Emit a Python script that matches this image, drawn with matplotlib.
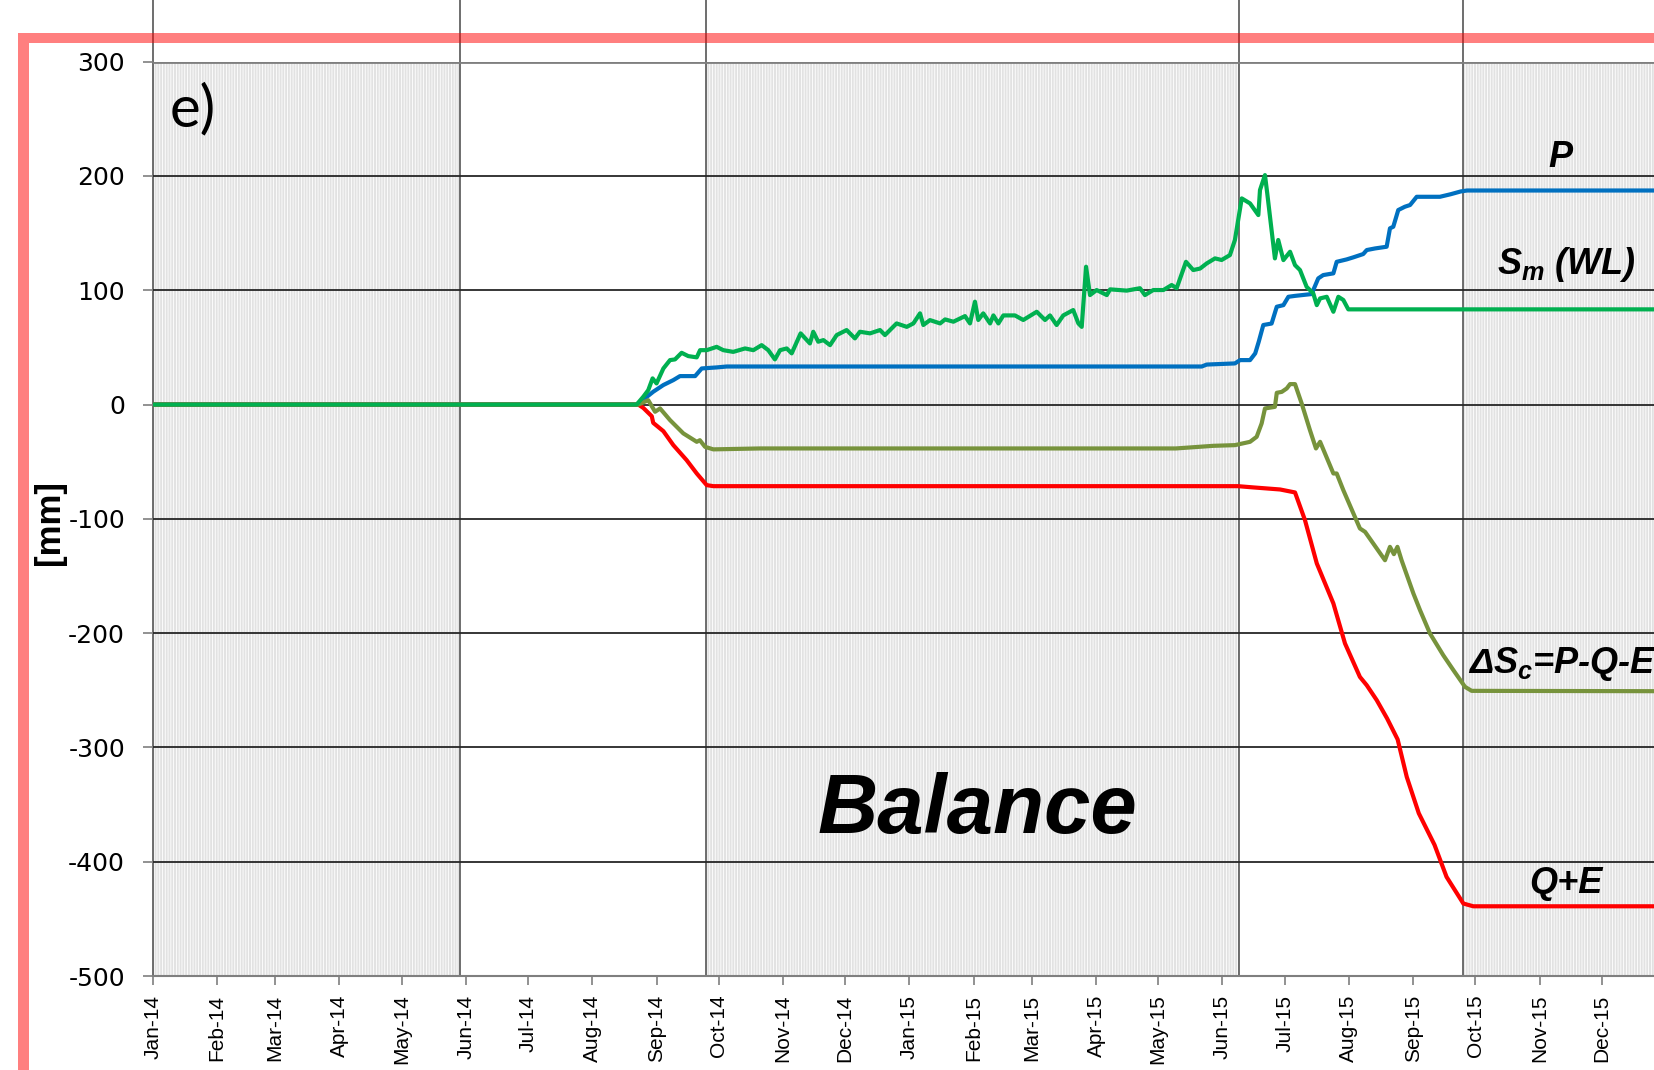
import pandas as pd
import matplotlib
matplotlib.use("Agg")
import matplotlib.pyplot as plt
import matplotlib.dates as mdates
from matplotlib.patches import Rectangle

plt.rcParams["font.family"] = "Liberation Sans"
plt.rcParams["axes.unicode_minus"] = False
plt.rcParams["mathtext.fontset"] = "custom"
plt.rcParams["mathtext.it"] = "Liberation Sans:italic:bold"
plt.rcParams["mathtext.rm"] = "Liberation Sans:bold"
plt.rcParams["hatch.linewidth"] = 0.6

# Days are counted from the start of the record
START = pd.Timestamp("2014-01-01")
END_DAY = 790

# Shaded periods (day ranges)
shade_start = [0, 267, 632]
shade_end = [148, 524, END_DAY]

# y axis
y_ticks = [-500, -400, -300, -200, -100, 0, 100, 200, 300]
y_labels = ["-500", "-400", "-300", "-200", "-100", "0", "100", "200", "300"]

# P (cumulative precipitation)
p_days = [0, 233.4, 237.4, 241.4, 246.3, 251.1, 254.3, 261.6, 264.8, 272, 276.9, 506, 508.4, 522,
          524.5, 529.3, 531.8, 533.5, 535.7, 539.7, 542.2, 545.4, 547.8, 551, 559, 562.2, 564.6,
          569.5, 571.1, 575.9, 579.1, 583.9, 585.6, 589.6, 595.2, 596.8, 598.4, 600.8, 604, 606.5,
          609.7, 620.9, 626, 631, 634, END_DAY]
p_vals = [0, 0, 5.4, 11.2, 17.1, 21.4, 24.9, 24.9, 31.6, 32.5, 33.3, 33.3, 35, 36,
          38.9, 38.9, 44.8, 55, 69.6, 70.9, 85.6, 87, 94.3, 95.1, 96.7, 110.4, 113.3,
          114.8, 124.9, 127, 128.8, 131.7, 135.2, 136.6, 138.1, 154.2, 155.6, 170.2, 173.1, 174.6,
          181.8, 181.8, 184, 186.5, 187.3, 187.3]

# Q+E (cumulative, plotted negative)
qe_days = [0, 234.2, 236.6, 240.7, 241.4, 246.3, 251.1, 257.5, 262.4, 267.2, 270.4, 523.5, 530.9,
           543.8, 551, 555.8, 561.5, 569.5, 575.1, 582.3, 585.6, 590.4, 595.4, 600.5, 604.9, 610.7,
           618.3, 624.1, 632.2, 637, END_DAY]
qe_vals = [0, 0, -2.9, -10.2, -16, -23.3, -35.5, -48.6, -60.3, -70.5, -71.4, -71.4, -72.5,
           -74.3, -76.9, -101.1, -139, -174, -209, -238.3, -245.6, -258.6, -274.6, -293, -325.8, -357.6,
           -385.3, -413.3, -436.6, -439, -439]

# dSc = P-Q-E
ds_days = [0, 234.2, 239, 242.3, 244.7, 249.5, 255.9, 262.4, 263.9, 266.4, 270.4, 292.9, 493.5,
           511.6, 522, 529.3, 532.5, 534.9, 536.5, 541.3, 542.2, 544.6, 547, 548.6, 551, 554.2,
           558.2, 561.1, 563.1, 569.5, 571.1, 574.3, 582.3, 584.8, 594.4, 596.8, 598.7, 600.4,
           602.4, 608.1, 611.3, 616.1, 622.5, 627.4, 633, 636.2, END_DAY]
ds_vals = [0, 0, 3.8, -6.3, -3.4, -13.6, -25.2, -32.6, -31.2, -37, -39.2, -38.4, -38.4,
           -36.1, -35.5, -32.6, -28.2, -16.5, -3.4, -2, 10.3, 11.1, 14.1, 17.9, 17.9, 1,
           -22.4, -38.4, -32.6, -60.3, -60.3, -74.9, -108.4, -111.4, -136.2, -124.5, -130.9, -124.5,
           -136.2, -165.3, -179.9, -200.3, -219.3, -232.4, -247, -250.5, -251]

# Sm (WL)
sm_days = [0, 233.4, 236.6, 239, 241.1, 243, 246.3, 249.5, 251.9, 255.1, 258.3, 262.4, 264, 267.2,
           272, 275.2, 280, 285.7, 289.7, 293.7, 296.9, 300.1, 302.6, 305.8, 308.2, 312.5, 317,
           318.6, 321, 323.5, 326.7, 329.9, 334.7, 338.7, 341.1, 346, 350.8, 353.2, 358.8, 363.7,
           366.9, 370.1, 371.7, 374.9, 379.8, 382.2, 386.2, 391.8, 394.2, 396.6, 398.2, 400.6,
           403.9, 405.5, 407.9, 410.3, 415.9, 419.9, 426.4, 430.4, 432.8, 436, 439.2, 444, 446.5,
           448.1, 450.2, 452.1, 455.3, 460.2, 461.8, 469.8, 476.2, 478.6, 482.6, 487.5, 491.5,
           493.9, 498.4, 501.9, 505.2, 508.4, 512.4, 515.6, 519.6, 522, 525.3, 529.3, 533.3, 534.1,
           536.5, 537.6, 541.3, 542.9, 545.4, 548.6, 551, 553.4, 556.6, 559.8, 561.5, 563.1, 566.3,
           569.5, 571.9, 574.3, 576.7, END_DAY]
sm_vals = [0, 0, 6.8, 12.6, 22.9, 18.5, 31.6, 38.9, 39.5, 45.3, 42.4, 41.3, 47.6, 47.6,
           50.5, 47.6, 46.1, 49.1, 47.6, 52, 47.6, 39.5, 47.6, 49.1, 44.8, 62.3, 53.5,
           63.7, 55, 56.4, 52, 60.8, 65.2, 57.9, 63.7, 62.3, 65.2, 60.8, 71, 68,
           71, 79.8, 69.6, 73.9, 71, 74.5, 72.5, 77.4, 71, 90, 74, 79.8,
           71, 78, 71, 78, 78, 74, 81.2, 74, 78, 69.6, 78, 82.7, 71,
           68, 120.6, 95.8, 100.2, 95.8, 100.8, 99.7, 101.8, 95.8, 100.2, 100.2, 104.6,
           101.8, 124.9, 117.7, 119, 123.5, 127.9, 126.5, 130.8, 144, 180.4, 176, 165.8, 187.7,
           200.8, 184.8, 127.9, 144, 126.4, 133.7, 122, 117.7, 103, 97.3, 87, 92.9, 94.3,
           81.2, 94.3, 91.5, 83.3, 83.3]


def to_dates(days):
    return START + pd.to_timedelta(days, unit="D")


fig = plt.figure(figsize=(16.54, 10.70), dpi=100)
ax_left = 152.8 / 1654
ax_bottom = (1070 - 976) / 1070
ax_height = (976 - 61.7) / 1070
ax_width = END_DAY * 2.073 / 1654
ax = fig.add_axes([ax_left, ax_bottom, ax_width, ax_height])

# shaded periods
for s, e in zip(shade_start, shade_end):
    ax.axvspan(to_dates([s])[0], to_dates([e])[0], facecolor="#e2e2e2", edgecolor="white",
               hatch="|" * 6, linewidth=0, zorder=0)

# period boundaries, running up past the plot
for d in shade_start + shade_end[:-1]:
    x = to_dates([d])[0]
    ax.plot([x, x], [-500, 360], color="#555555", lw=1.2, clip_on=False, zorder=1)

# horizontal grid
for v in y_ticks[1:-1]:
    ax.axhline(v, color="#262626", lw=1.3, zorder=1)
ax.axhline(300, color="#7f7f7f", lw=2.0, zorder=1)

ax.plot(to_dates(p_days), p_vals, color="#0070C0", lw=3.0, zorder=3)
ax.plot(to_dates(qe_days), qe_vals, color="#FF0000", lw=3.0, zorder=3)
ax.plot(to_dates(ds_days), ds_vals, color="#77933C", lw=3.0, zorder=3)
ax.plot(to_dates(sm_days), sm_vals, color="#00B050", lw=3.0, zorder=4)

ax.set_xlim(to_dates([0])[0], to_dates([END_DAY])[0])
ax.set_ylim(-500, 300)
ax.set_yticks(y_ticks, labels=y_labels, fontfamily="DejaVu Sans", fontsize=18)

ax.xaxis.set_major_locator(mdates.MonthLocator())
ax.xaxis.set_major_formatter(mdates.DateFormatter("%b-%y"))

ax.tick_params(axis="y", direction="out", length=7, width=1.2, color="#7f7f7f", pad=13)
ax.tick_params(axis="x", direction="out", length=6.5, width=1.2, color="#7f7f7f", pad=7,
               labelsize=15, labelrotation=90)

for side in ["top", "right", "left"]:
    ax.spines[side].set_visible(False)
ax.spines["bottom"].set_color("#7f7f7f")
ax.spines["bottom"].set_linewidth(1.5)

fig.text(49.6 / 1654, 1 - 522 / 1070, "[mm]", rotation=90, ha="center", va="center",
         fontsize=25, fontweight="bold")

lab = dict(fontweight="bold", style="italic", fontsize=26, zorder=5)
ax.text(to_dates([8])[0], 243, "e)", fontsize=42, family="Lato", va="baseline", ha="left")
ax.text(to_dates([679])[0], 208, "P", ha="center", va="baseline", **lab)
ax.text(to_dates([681.7])[0], 114, "$S_m$ (WL)", ha="center", va="baseline", **lab)
ax.text(to_dates([634.4])[0], -235, "Δ$S_c$=P-Q-E", ha="left", va="baseline", **lab)
ax.text(to_dates([681.7])[0], -427.6, "Q+E", ha="center", va="baseline", **lab)
ax.text(to_dates([398])[0], -375, "Balance", ha="center", va="baseline",
        fontweight="bold", style="italic", fontsize=60, zorder=5)

# frame of the cropped panel
fig.patches.append(Rectangle((18 / 1654, 1 - 43.3 / 1070), 1.0, 10 / 1070, transform=fig.transFigure,
                             facecolor="red", alpha=0.5, edgecolor="none", zorder=10))
fig.patches.append(Rectangle((18 / 1654, 0), 11 / 1654, 1 - 43.3 / 1070, transform=fig.transFigure,
                             facecolor="red", alpha=0.5, edgecolor="none", zorder=10))

fig.savefig("out.png", dpi=100)
